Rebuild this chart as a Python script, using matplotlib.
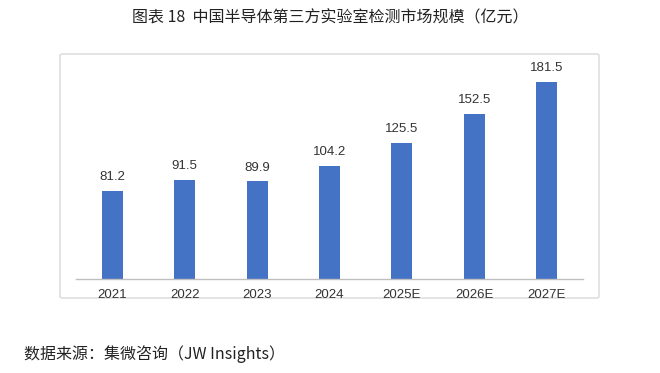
import matplotlib.pyplot as plt
from matplotlib.patches import FancyBboxPatch

plt.rcParams['font.family'] = ['Noto Sans CJK SC', 'DejaVu Sans']

years = ["2021", "2022", "2023", "2024", "2025E", "2026E", "2027E"]
values = [81.2, 91.5, 89.9, 104.2, 125.5, 152.5, 181.5]
value_labels = ["81.2", "91.5", "89.9", "104.2", "125.5", "152.5", "181.5"]

W, H = 660, 373
fig = plt.figure(figsize=(6.6, 3.73), dpi=100)

# outer frame around the chart
frame = FancyBboxPatch((60 / W, 1 - 298 / H), (599 - 60) / W, (298 - 54) / H,
                       boxstyle="round,pad=0,rounding_size=0.004",
                       transform=fig.transFigure, fc="none", ec="#d9d9d9", lw=1.0,
                       zorder=-1)
fig.patches.append(frame)

ax = fig.add_axes([76 / W, 1 - 279 / H, (583 - 76) / W, (279 - 62) / H])
ax.patch.set_visible(False)
x = range(len(years))
ax.bar(x, values, width=0.29, color="#4472C4")
ax.set_xlim(-0.5, len(years) - 0.5)
ax.set_ylim(0, 200)

for i, (v, lab) in enumerate(zip(values, value_labels)):
    ax.text(i, v + 7, lab, ha="center", va="bottom", fontsize=9.5,
            family=["Liberation Sans", "DejaVu Sans"], color="#333333")

ax.set_xticks(list(x))
ax.set_xticklabels(years, fontsize=9.5, family=["Liberation Sans", "DejaVu Sans"], color="#333333")
ax.tick_params(axis="x", length=0, pad=7)
ax.set_yticks([])
for side in ("top", "left", "right"):
    ax.spines[side].set_visible(False)
ax.spines["bottom"].set_color("#bfbfbf")
ax.spines["bottom"].set_linewidth(1.0)

fig.text(0.5, 1 - 18 / H, "图表 18  中国半导体第三方实验室检测市场规模（亿元）",
         ha="center", va="center", fontsize=11.5, color="#222222")
fig.text(24 / W, 1 - 354 / H, "数据来源：集微咨询（JW Insights）",
         ha="left", va="center", fontsize=11.5, color="#222222")

fig.savefig("out.png", dpi=100)
